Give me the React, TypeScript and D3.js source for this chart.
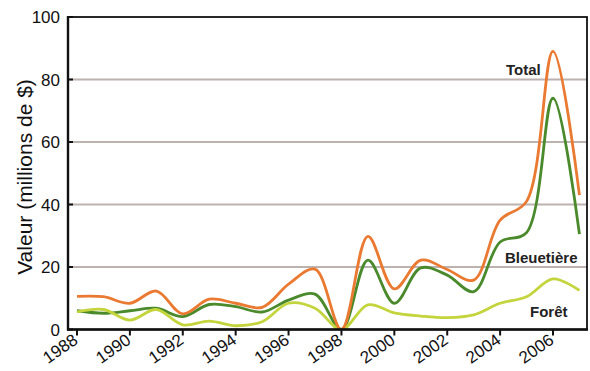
import React from "react";
import * as d3 from "d3";

const years = [1988,1989,1990,1991,1992,1993,1994,1995,1996,1997,1998,1999,2000,2001,2002,2003,2004,2005,2006,2007];
const total = [10.6,10.5,8.4,12.3,5.0,9.7,8.4,7.1,14.5,19.3,0,29.8,13.0,22.2,19.2,15.8,35,41,89,43];
const bleuetiere = [6.0,5.2,6.0,6.8,4.1,8.0,7.3,5.6,9.4,11.3,0,22.2,8.4,19.7,17.4,12.1,28,31,74,30.5];
const foret = [5.6,6.4,3.0,6.4,1.5,2.7,1.2,2.5,8.4,6.8,0,7.9,5.3,4.3,3.8,4.7,8.4,10.5,16.2,12.5];
const xTicks = [1988,1990,1992,1994,1996,1998,2000,2002,2004,2006];
const yTicks = [0,20,40,60,80,100];
const seriesNames = ["Total","Bleuetière","Forêt"];

const W = 590, H = 371;
const FONT = "'Liberation Sans', Arial, Helvetica, sans-serif";

export default function App() {
  const plotL = 68, plotR = 587, plotT = 17, plotB = 329.5;
  const x = d3.scaleLinear().domain([1988, 2006]).range([77, 553]);
  const y = d3.scaleLinear().domain([0, 100]).range([plotB, plotT]);
  const line = d3.line<number>()
    .x((_, i) => x(years[i]))
    .y((d) => y(d))
    .curve(d3.curveCatmullRom.alpha(0.5));

  const series = [
    { name: seriesNames[1], values: bleuetiere, color: "#4b8a2c" },
    { name: seriesNames[2], values: foret, color: "#c3d43c" },
    { name: seriesNames[0], values: total, color: "#ea7a32" },
  ];

  return (
    <svg width={W} height={H} style={{ position: "absolute", left: 0, top: 0, background: "#fff" }} fontFamily={FONT}>
      <defs>
        <clipPath id="plotclip">
          <rect x={plotL} y={plotT} width={plotR - plotL} height={plotB - plotT} />
        </clipPath>
      </defs>
      {yTicks.filter(t => t > 0 && t < 100).map(t => (
        <line key={"g" + t} x1={plotL} x2={plotR} y1={y(t)} y2={y(t)} stroke="#bcb2af" strokeWidth={2} />
      ))}
      <g clipPath="url(#plotclip)">
        {series.map(s => (
          <path key={s.name} d={line(s.values) || ""} fill="none" stroke={s.color} strokeWidth={2.8} strokeLinejoin="round" />
        ))}
      </g>
      <rect x={plotL} y={plotT} width={plotR - plotL} height={plotB - plotT} fill="none" stroke="#111" strokeWidth={1.8} />
      <line x1={plotL - 1} x2={plotR + 1} y1={plotB} y2={plotB} stroke="#111" strokeWidth={2.6} />
      <line x1={plotL} x2={plotL} y1={plotT - 1} y2={plotB + 1} stroke="#111" strokeWidth={2.4} />
      {yTicks.map(t => (
        <g key={"y" + t}>
          <line x1={plotL} x2={plotL + 5} y1={y(t)} y2={y(t)} stroke="#111" strokeWidth={2} />
          <text x={60} y={y(t)} dy="0.36em" textAnchor="end" fontSize={17} fill="#111">{t}</text>
        </g>
      ))}
      {xTicks.map(t => (
        <g key={"x" + t}>
          <line x1={x(t)} x2={x(t)} y1={plotB} y2={plotB + 6} stroke="#111" strokeWidth={2} />
          <text transform={`translate(${x(t) + 2},${plotB + 13}) rotate(-35)`} textAnchor="end" fontSize={17} fill="#111">{t}</text>
        </g>
      ))}
      <text transform={`translate(32,177) rotate(-90)`} textAnchor="middle" fontSize={21} fill="#111">Valeur (millions de $)</text>
      <text x={506} y={75} fontSize={15} fontWeight="bold" fill="#222">{seriesNames[0]}</text>
      <text x={505} y={263} fontSize={15} fontWeight="bold" fill="#222">{seriesNames[1]}</text>
      <text x={530} y={317} fontSize={15} fontWeight="bold" fill="#222">{seriesNames[2]}</text>
    </svg>
  );
}
